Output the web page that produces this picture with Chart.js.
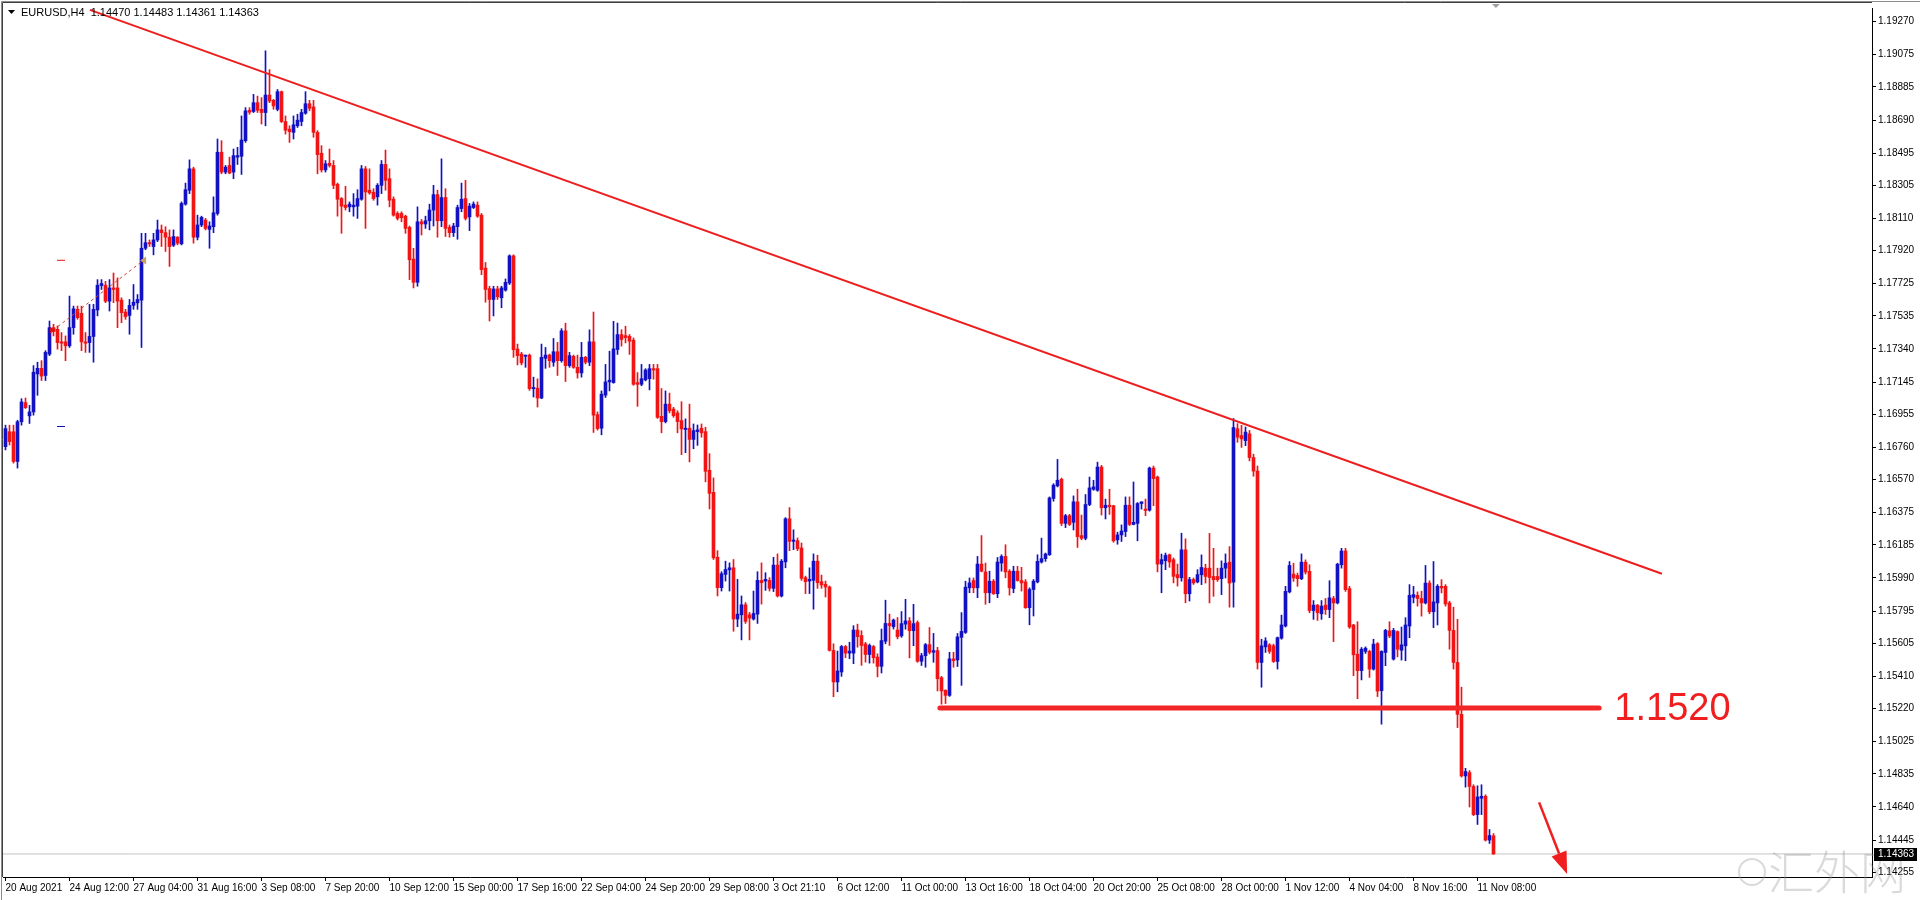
<!DOCTYPE html>
<html>
<head>
<meta charset="utf-8">
<script src="https://cdn.jsdelivr.net/npm/chart.js@4.4.1/dist/chart.umd.min.js"></script>
<style>
  html, body { margin: 0; padding: 0; background: #fff; }
  #wrap { width: 1920px; height: 900px; }
</style>
</head>
<body>
<div id="wrap"><canvas id="chart" width="1920" height="900"></canvas></div>
<script>
// EURUSD H4, one value per bar
const opens = [
  1.16764,1.16852,1.16852,1.16677,1.16911,1.17024,1.16946,1.16969,1.17193,1.17226,1.17184,1.17310,1.17466,1.17456,1.17382,1.17382,
  1.17359,1.17466,1.17574,1.17550,1.17382,1.17378,1.17414,1.17570,1.17714,1.17716,1.17622,1.17700,1.17700,1.17628,1.17558,1.17538,
  1.17597,1.17612,1.17628,1.17934,1.17967,1.17944,1.17983,1.18042,1.18026,1.17999,1.17952,1.17999,1.17960,1.18194,1.18276,1.18402,
  1.17999,1.18071,1.18100,1.18045,1.18061,1.18139,1.18500,1.18383,1.18422,1.18383,1.18471,1.18476,1.18568,1.18747,1.18740,1.18792,
  1.18753,1.18734,1.18837,1.18806,1.18753,1.18857,1.18681,1.18636,1.18617,1.18656,1.18681,1.18730,1.18786,1.18767,1.18617,1.18494,
  1.18396,1.18435,1.18422,1.18311,1.18227,1.18188,1.18178,1.18178,1.18182,1.18223,1.18402,1.18276,1.18264,1.18237,1.18305,1.18428,
  1.18344,1.18223,1.18139,1.18139,1.18123,1.18057,1.17870,1.17733,1.18090,1.18077,1.18096,1.18159,1.18250,1.18096,1.18233,1.18057,
  1.18026,1.18061,1.18168,1.18227,1.18119,1.18174,1.18188,1.18129,1.17817,1.17696,1.17632,1.17694,1.17642,1.17687,1.17729,1.17889,
  1.17340,1.17310,1.17297,1.17304,1.17106,1.17109,1.17051,1.17285,1.17304,1.17262,1.17324,1.17271,1.17447,1.17242,1.17297,1.17232,
  1.17199,1.17291,1.17262,1.17382,1.16953,1.16873,1.17068,1.17146,1.17142,1.17337,1.17425,1.17419,1.17415,1.17392,1.17142,1.17132,
  1.17158,1.17165,1.17224,1.17224,1.16943,1.16912,1.17015,1.16986,1.16963,1.16918,1.16865,1.16873,1.16807,1.16853,1.16873,1.16853,
  1.16625,1.16495,1.16112,1.15933,1.16011,1.16038,1.16050,1.15748,1.15773,1.15832,1.15773,1.15748,1.15777,1.15976,1.15972,1.15976,
  1.15929,1.16066,1.15884,1.16085,1.16339,1.16206,1.16210,1.16167,1.15992,1.15972,1.15976,1.16089,1.15968,1.15953,1.15937,1.15563,
  1.15377,1.15436,1.15586,1.15547,1.15547,1.15683,1.15650,1.15601,1.15539,1.15586,1.15524,1.15469,1.15617,1.15722,1.15703,1.15683,
  1.15649,1.15718,1.15737,1.15679,1.15727,1.15499,1.15532,1.15597,1.15552,1.15562,1.15402,1.15328,1.15298,1.15513,1.15507,1.15640,
  1.15669,1.15932,1.15975,1.15932,1.16072,1.16026,1.15903,1.15971,1.15897,1.16078,1.16117,1.16030,1.15928,1.16030,1.15975,1.15967,
  1.15815,1.15922,1.15967,1.16084,1.16104,1.16127,1.16459,1.16533,1.16572,1.16312,1.16357,1.16318,1.16439,1.16240,1.16224,1.16423,
  1.16513,1.16507,1.16644,1.16404,1.16419,1.16416,1.16215,1.16244,1.16264,1.16419,1.16306,1.16312,1.16429,1.16396,1.16390,1.16638,
  1.16585,1.16072,1.16092,1.16127,1.16098,1.16010,1.15991,1.16156,1.15897,1.15981,1.15967,1.16009,1.16048,1.16048,1.15999,1.15999,
  1.15986,1.16048,1.16083,1.15966,1.16870,1.16830,1.16800,1.16840,1.16700,1.16620,1.15492,1.15584,1.15596,1.15590,1.15498,1.15635,
  1.15707,1.15908,1.16013,1.16005,1.15986,1.16083,1.16029,1.15798,1.15830,1.15779,1.15830,1.15804,1.15869,1.15843,1.16068,1.16149,
  1.15927,1.15713,1.15541,1.15444,1.15557,1.15557,1.15453,1.15603,1.15326,1.15551,1.15678,1.15512,1.15674,1.15564,1.15590,1.15707,
  1.15876,1.15888,1.15869,1.15843,1.15960,1.15791,1.15843,1.15941,1.15941,1.15843,1.15681,1.15492,1.15186,1.14823,1.14843,1.14761,
  1.14595,1.14691,1.14703,1.14445,1.14470
];
const highs = [
  1.16891,1.16891,1.16891,1.16920,1.17047,1.17051,1.17008,1.17242,1.17262,1.17271,1.17330,1.17505,1.17486,1.17476,1.17437,1.17417,
  1.17652,1.17593,1.17593,1.17593,1.17437,1.17603,1.17603,1.17749,1.17749,1.17739,1.17749,1.17788,1.17759,1.17642,1.17574,1.17632,
  1.17720,1.17661,1.18022,1.18022,1.17983,1.18022,1.18100,1.18071,1.18061,1.18042,1.18042,1.18003,1.18207,1.18318,1.18455,1.18412,
  1.18129,1.18123,1.18110,1.18090,1.18237,1.18578,1.18568,1.18422,1.18471,1.18519,1.18529,1.18714,1.18763,1.18763,1.18841,1.18831,
  1.18822,1.19098,1.18987,1.18812,1.18870,1.18861,1.18714,1.18656,1.18714,1.18724,1.18753,1.18857,1.18806,1.18806,1.18627,1.18539,
  1.18451,1.18519,1.18451,1.18318,1.18233,1.18299,1.18207,1.18256,1.18279,1.18422,1.18416,1.18402,1.18285,1.18315,1.18451,1.18513,
  1.18402,1.18237,1.18149,1.18149,1.18129,1.18065,1.17934,1.18178,1.18104,1.18123,1.18194,1.18305,1.18276,1.18461,1.18285,1.18071,
  1.18081,1.18188,1.18318,1.18334,1.18198,1.18207,1.18207,1.18139,1.17850,1.17710,1.17710,1.17710,1.17710,1.17753,1.17895,1.17895,
  1.17369,1.17320,1.17304,1.17310,1.17174,1.17164,1.17369,1.17349,1.17310,1.17402,1.17379,1.17460,1.17492,1.17320,1.17304,1.17304,
  1.17379,1.17297,1.17453,1.17558,1.16969,1.17093,1.17249,1.17327,1.17503,1.17493,1.17454,1.17474,1.17425,1.17405,1.17201,1.17249,
  1.17224,1.17249,1.17249,1.17249,1.17107,1.17093,1.17080,1.16996,1.16976,1.17029,1.16928,1.17015,1.16898,1.16892,1.16898,1.16879,
  1.16723,1.16580,1.16151,1.16027,1.16089,1.16079,1.16099,1.15982,1.15884,1.15845,1.15787,1.15913,1.16027,1.16079,1.16021,1.15992,
  1.16112,1.16132,1.16099,1.16346,1.16405,1.16274,1.16226,1.16196,1.16001,1.16050,1.16132,1.16124,1.16007,1.15972,1.15943,1.15602,
  1.15559,1.15592,1.15592,1.15611,1.15709,1.15718,1.15679,1.15611,1.15601,1.15592,1.15543,1.15689,1.15859,1.15777,1.15748,1.15757,
  1.15792,1.15864,1.15757,1.15835,1.15737,1.15546,1.15604,1.15698,1.15663,1.15581,1.15410,1.15331,1.15552,1.15552,1.15663,1.15786,
  1.15971,1.15990,1.15990,1.16117,1.16240,1.16078,1.16030,1.15981,1.16111,1.16127,1.16186,1.16039,1.16059,1.16059,1.16053,1.15981,
  1.15932,1.15981,1.16127,1.16225,1.16137,1.16468,1.16546,1.16689,1.16579,1.16365,1.16365,1.16474,1.16513,1.16361,1.16482,1.16585,
  1.16566,1.16673,1.16654,1.16455,1.16513,1.16419,1.16260,1.16303,1.16468,1.16468,1.16556,1.16435,1.16439,1.16455,1.16644,1.16650,
  1.16591,1.16131,1.16137,1.16131,1.16108,1.16072,1.16254,1.16221,1.15994,1.15990,1.16039,1.16126,1.16071,1.16253,1.16165,1.16048,
  1.16091,1.16132,1.16175,1.16930,1.16900,1.16890,1.16880,1.16860,1.16720,1.16650,1.15629,1.15638,1.15603,1.15600,1.15642,1.15771,
  1.15941,1.16087,1.16077,1.16019,1.16132,1.16097,1.16068,1.15857,1.15834,1.15857,1.15869,1.15974,1.15882,1.16077,1.16165,1.16165,
  1.15941,1.15717,1.15732,1.15580,1.15584,1.15564,1.15629,1.15609,1.15561,1.15687,1.15732,1.15693,1.15678,1.15701,1.15756,1.15951,
  1.15941,1.15908,1.15912,1.16064,1.15974,1.16087,1.15951,1.15980,1.15951,1.15853,1.15818,1.15746,1.15346,1.14868,1.14855,1.14771,
  1.14765,1.14771,1.14712,1.14507,1.14483
];
const lows = [
  1.16745,1.16774,1.16667,1.16638,1.16891,1.16989,1.16901,1.16950,1.17067,1.17154,1.17154,1.17301,1.17417,1.17339,1.17330,1.17271,
  1.17349,1.17427,1.17515,1.17330,1.17320,1.17320,1.17262,1.17535,1.17691,1.17613,1.17564,1.17613,1.17466,1.17495,1.17515,1.17427,
  1.17574,1.17574,1.17349,1.17925,1.17944,1.17895,1.17973,1.17944,1.17915,1.17827,1.17944,1.17954,1.17954,1.18188,1.18256,1.17964,
  1.17983,1.18061,1.18042,1.17934,1.18026,1.18129,1.18373,1.18373,1.18373,1.18344,1.18428,1.18369,1.18558,1.18724,1.18734,1.18734,
  1.18666,1.18656,1.18792,1.18753,1.18744,1.18675,1.18607,1.18558,1.18578,1.18646,1.18656,1.18724,1.18744,1.18588,1.18373,1.18383,
  1.18383,1.18412,1.18285,1.18123,1.18022,1.18159,1.18149,1.18123,1.18110,1.18217,1.18051,1.18252,1.18217,1.18188,1.18256,1.18276,
  1.18178,1.18123,1.18100,1.18090,1.18022,1.17749,1.17700,1.17710,1.18012,1.18051,1.18042,1.18065,1.17999,1.18061,1.18003,1.17999,
  1.18003,1.17987,1.18149,1.18100,1.18038,1.18168,1.18116,1.17778,1.17616,1.17505,1.17535,1.17632,1.17583,1.17681,1.17720,1.17291,
  1.17246,1.17246,1.17232,1.17096,1.17057,1.16998,1.17047,1.17226,1.17232,1.17238,1.17184,1.17262,1.17148,1.17232,1.17226,1.17168,
  1.17174,1.17252,1.17242,1.16848,1.16862,1.16834,1.17054,1.17093,1.17138,1.17308,1.17357,1.17376,1.17308,1.17126,1.17002,1.17123,
  1.17152,1.17099,1.17162,1.16931,1.16846,1.16904,1.16963,1.16937,1.16846,1.16717,1.16729,1.16674,1.16752,1.16772,1.16820,1.16557,
  1.16397,1.16099,1.15884,1.15913,1.15972,1.15913,1.15676,1.15703,1.15625,1.15722,1.15625,1.15742,1.15722,1.15836,1.15917,1.15913,
  1.15910,1.15878,1.15878,1.16050,1.16151,1.16157,1.16151,1.15976,1.15898,1.15898,1.15806,1.15929,1.15929,1.15878,1.15559,1.15290,
  1.15319,1.15410,1.15520,1.15514,1.15485,1.15582,1.15475,1.15494,1.15488,1.15488,1.15407,1.15430,1.15602,1.15592,1.15689,1.15631,
  1.15640,1.15688,1.15519,1.15591,1.15493,1.15474,1.15464,1.15542,1.15493,1.15324,1.15246,1.15250,1.15292,1.15464,1.15468,1.15357,
  1.15663,1.15903,1.15903,1.15874,1.16026,1.15835,1.15844,1.15893,1.15874,1.16030,1.15991,1.15889,1.15903,1.15971,1.15913,1.15811,
  1.15714,1.15766,1.15961,1.16078,1.16088,1.16123,1.16443,1.16527,1.16299,1.16287,1.16299,1.16273,1.16170,1.16215,1.16215,1.16416,
  1.16507,1.16501,1.16361,1.16338,1.16365,1.16201,1.16189,1.16205,1.16234,1.16299,1.16303,1.16209,1.16396,1.16357,1.16384,1.16416,
  1.16026,1.15903,1.16039,1.16053,1.15961,1.15942,1.15971,1.15844,1.15854,1.15952,1.15961,1.15951,1.15960,1.15843,1.15882,1.15970,
  1.15892,1.15990,1.15818,1.15818,1.16790,1.16760,1.16770,1.16680,1.16590,1.15453,1.15346,1.15551,1.15545,1.15492,1.15453,1.15629,
  1.15701,1.15902,1.15970,1.15941,1.15980,1.16013,1.15785,1.15746,1.15740,1.15746,1.15775,1.15756,1.15615,1.15837,1.16048,1.15911,
  1.15693,1.15414,1.15278,1.15389,1.15545,1.15404,1.15447,1.15291,1.15128,1.15473,1.15638,1.15506,1.15525,1.15506,1.15502,1.15638,
  1.15843,1.15824,1.15765,1.15837,1.15779,1.15697,1.15713,1.15902,1.15824,1.15570,1.15453,1.15108,1.14816,1.14757,1.14640,1.14589,
  1.14537,1.14595,1.14439,1.14425,1.14361
];
const closes = [
  1.16871,1.16794,1.16677,1.16911,1.17028,1.16994,1.16969,1.17203,1.17226,1.17180,1.17320,1.17466,1.17443,1.17378,1.17374,1.17359,
  1.17466,1.17577,1.17525,1.17382,1.17374,1.17414,1.17574,1.17716,1.17726,1.17622,1.17700,1.17691,1.17622,1.17554,1.17531,1.17597,
  1.17616,1.17632,1.17934,1.17967,1.17960,1.17983,1.18042,1.18026,1.17999,1.17944,1.18003,1.17964,1.18198,1.18279,1.18402,1.17999,
  1.18071,1.18116,1.18051,1.18065,1.18143,1.18500,1.18383,1.18412,1.18377,1.18480,1.18480,1.18572,1.18744,1.18736,1.18792,1.18747,
  1.18734,1.18837,1.18802,1.18773,1.18857,1.18681,1.18630,1.18621,1.18662,1.18689,1.18734,1.18786,1.18759,1.18617,1.18486,1.18396,
  1.18432,1.18422,1.18305,1.18223,1.18182,1.18174,1.18194,1.18188,1.18227,1.18402,1.18266,1.18260,1.18227,1.18305,1.18428,1.18334,
  1.18217,1.18129,1.18110,1.18114,1.18051,1.17866,1.17733,1.18090,1.18077,1.18096,1.18159,1.18250,1.18096,1.18233,1.18051,1.18026,
  1.18065,1.18174,1.18223,1.18110,1.18182,1.18194,1.18123,1.17808,1.17691,1.17632,1.17694,1.17648,1.17700,1.17733,1.17889,1.17336,
  1.17301,1.17258,1.17304,1.17106,1.17113,1.17051,1.17291,1.17304,1.17271,1.17324,1.17271,1.17447,1.17242,1.17301,1.17232,1.17199,
  1.17291,1.17262,1.17382,1.16950,1.16871,1.17074,1.17146,1.17156,1.17341,1.17425,1.17396,1.17407,1.17386,1.17132,1.17132,1.17165,
  1.17216,1.17224,1.17216,1.16937,1.16912,1.17015,1.16976,1.16947,1.16912,1.16869,1.16873,1.16807,1.16859,1.16863,1.16846,1.16619,
  1.16489,1.16109,1.15933,1.16015,1.16040,1.16050,1.15748,1.15777,1.15832,1.15734,1.15754,1.15781,1.15976,1.15962,1.15982,1.15929,
  1.16066,1.15884,1.16089,1.16339,1.16206,1.16214,1.16163,1.15988,1.15968,1.15982,1.16089,1.15962,1.15949,1.15937,1.15563,1.15377,
  1.15442,1.15586,1.15547,1.15559,1.15683,1.15644,1.15592,1.15539,1.15592,1.15520,1.15469,1.15621,1.15722,1.15709,1.15742,1.15644,
  1.15721,1.15737,1.15679,1.15721,1.15499,1.15532,1.15597,1.15552,1.15562,1.15396,1.15324,1.15298,1.15513,1.15503,1.15643,1.15675,
  1.15936,1.15961,1.15932,1.16072,1.16030,1.15903,1.15971,1.15897,1.16084,1.16117,1.16026,1.15932,1.16030,1.15975,1.15961,1.15815,
  1.15922,1.15971,1.16088,1.16104,1.16131,1.16462,1.16537,1.16566,1.16312,1.16357,1.16306,1.16439,1.16234,1.16224,1.16423,1.16521,
  1.16527,1.16644,1.16404,1.16419,1.16410,1.16209,1.16244,1.16267,1.16419,1.16306,1.16318,1.16429,1.16439,1.16388,1.16638,1.16576,
  1.16072,1.16098,1.16123,1.16084,1.16000,1.15991,1.16156,1.15897,1.15981,1.15961,1.16010,1.16052,1.15999,1.15993,1.15980,1.15980,
  1.16048,1.16077,1.15960,1.16877,1.16820,1.16810,1.16850,1.16700,1.16620,1.15492,1.15590,1.15619,1.15557,1.15498,1.15638,1.15713,
  1.15911,1.16064,1.15990,1.15986,1.16083,1.16025,1.15798,1.15830,1.15785,1.15824,1.15804,1.15873,1.15843,1.16071,1.16149,1.15921,
  1.15701,1.15537,1.15444,1.15570,1.15576,1.15453,1.15600,1.15323,1.15557,1.15681,1.15648,1.15681,1.15570,1.15596,1.15713,1.15888,
  1.15892,1.15869,1.15843,1.15960,1.15791,1.15849,1.15941,1.15931,1.15837,1.15681,1.15492,1.15186,1.14823,1.14849,1.14761,1.14595,
  1.14699,1.14703,1.14445,1.14472,1.14363
];

// time axis labels, one every 16 bars
const timeLabels = ['20 Aug 2021','24 Aug 12:00','27 Aug 04:00','31 Aug 16:00','3 Sep 08:00','7 Sep 20:00','10 Sep 12:00',
  '15 Sep 00:00','17 Sep 16:00','22 Sep 04:00','24 Sep 20:00','29 Sep 08:00','3 Oct 21:10','6 Oct 12:00','11 Oct 00:00',
  '13 Oct 16:00','18 Oct 04:00','20 Oct 20:00','25 Oct 08:00','28 Oct 00:00','1 Nov 12:00','4 Nov 04:00','8 Nov 16:00','11 Nov 08:00'];
const labelStep = 16;

// price scale labels
const priceTicks = [1.19270,1.19075,1.18885,1.18690,1.18495,1.18305,1.18110,1.17920,1.17725,1.17535,1.17340,1.17145,1.16955,
  1.16760,1.16570,1.16375,1.16185,1.15990,1.15795,1.15605,1.15410,1.15220,1.15025,1.14835,1.14640,1.14445,1.14255];

// drawn objects: [bar index, price]
const trendLine = [[21.1, 1.19339], [414.1, 1.16015]];
const levelLine = [[233.6, 1.15224], [398.4, 1.15224]];
const levelText = '1.1520';
const arrowLine = [[383.4, 1.14667], [390.4, 1.14245]];
const tradeLine = [[11.9, 1.17451], [34.4, 1.17861]];

const header = 'EURUSD,H4  1.14470 1.14483 1.14361 1.14363';
const lastPrice = closes[closes.length - 1];

const BLUE = '#1212c4';
const RED = '#f01414';
const LINE_RED = '#ee1e1e';
const FONT = { family: 'Liberation Sans', size: 10 };

const X_MIN = -0.625, X_MAX = 466.625;
const Y_MIN = 1.142272, Y_MAX = 1.193503;

const colors = opens.map((o, i) => closes[i] >= o ? BLUE : RED);
const bodies = opens.map((o, i) => ({ x: i, y: [o, closes[i]] }));
const wicks = lows.map((l, i) => ({ x: i, y: [l, highs[i]] }));
const pts = arr => arr.map(p => ({ x: p[0], y: p[1] }));

const decor = {
  id: 'decor',
  beforeDraw(chart) {
    const c = chart.ctx;
    c.save();
    c.fillStyle = '#fff';
    c.fillRect(0, 0, chart.width, chart.height);
    c.restore();
  },
  afterDraw(chart) {
    const c = chart.ctx, a = chart.chartArea;
    const xs = chart.scales.x, ys = chart.scales.y;
    c.save();

    // window frame
    c.strokeStyle = '#8c8c8c';
    c.lineWidth = 1;
    c.beginPath();
    c.moveTo(1.5, 900); c.lineTo(1.5, 1.5); c.lineTo(1920, 1.5);
    c.stroke();
    c.strokeStyle = '#404040';
    c.beginPath();
    c.moveTo(2.5, a.bottom); c.lineTo(2.5, 2.5); c.lineTo(a.right, 2.5);
    c.stroke();

    // header
    c.fillStyle = '#000';
    c.beginPath();
    c.moveTo(8, 10); c.lineTo(15, 10); c.lineTo(11.5, 14);
    c.closePath(); c.fill();
    c.font = '11px "Liberation Sans"';
    c.textBaseline = 'middle';
    c.fillText(header, 21, 12.5);

    // chart shift marker
    const sx = xs.getPixelForValue(372.6);
    c.fillStyle = '#a0a0a0';
    c.beginPath();
    c.moveTo(sx - 4, 4); c.lineTo(sx + 4, 4); c.lineTo(sx, 8);
    c.closePath(); c.fill();

    // trade history marks
    const t0x = xs.getPixelForValue(tradeLine[0][0]), t0y = ys.getPixelForValue(tradeLine[0][1]);
    const t1x = xs.getPixelForValue(tradeLine[1][0]), t1y = ys.getPixelForValue(tradeLine[1][1]);
    c.strokeStyle = '#d04030';
    c.setLineDash([3, 3]);
    c.beginPath(); c.moveTo(t0x, t0y); c.lineTo(t1x, t1y); c.stroke();
    c.setLineDash([]);
    c.fillStyle = '#e01010';
    c.beginPath(); c.moveTo(t0x - 3, t0y - 3); c.lineTo(t0x + 3, t0y); c.lineTo(t0x - 3, t0y + 3); c.closePath(); c.fill();
    c.fillStyle = '#c8a060';
    c.beginPath(); c.moveTo(t1x + 3, t1y - 4); c.lineTo(t1x + 3, t1y + 4); c.lineTo(t1x - 3, t1y); c.closePath(); c.fill();
    c.lineWidth = 1;
    c.strokeStyle = '#e01010';
    c.beginPath(); c.moveTo(57, ys.getPixelForValue(1.17863)); c.lineTo(65, ys.getPixelForValue(1.17863)); c.stroke();
    c.strokeStyle = '#1010c0';
    c.beginPath(); c.moveTo(57, ys.getPixelForValue(1.16883)); c.lineTo(65, ys.getPixelForValue(1.16883)); c.stroke();

    // level label
    c.fillStyle = '#f01e1e';
    c.font = '38px "Liberation Sans"';
    c.textBaseline = 'middle';
    c.fillText(levelText, xs.getPixelForValue(402.2), ys.getPixelForValue(levelLine[0][1]) + 2);

    // arrow
    const ax0 = xs.getPixelForValue(arrowLine[0][0]), ay0 = ys.getPixelForValue(arrowLine[0][1]);
    const ax1 = xs.getPixelForValue(arrowLine[1][0]), ay1 = ys.getPixelForValue(arrowLine[1][1]);
    const ang = Math.atan2(ay1 - ay0, ax1 - ax0);
    const hl = 22, hw = 8;
    const bx = ax1 - hl * Math.cos(ang), by = ay1 - hl * Math.sin(ang);
    c.strokeStyle = '#f01e1e';
    c.lineWidth = 2.5;
    c.beginPath(); c.moveTo(ax0, ay0); c.lineTo(bx, by); c.stroke();
    c.fillStyle = '#f01e1e';
    c.beginPath();
    c.moveTo(ax1, ay1);
    c.lineTo(bx + hw * Math.sin(ang), by - hw * Math.cos(ang));
    c.lineTo(bx - hw * Math.sin(ang), by + hw * Math.cos(ang));
    c.closePath(); c.fill();

    // watermark
    c.fillStyle = 'rgba(150,150,150,0.35)';
    c.strokeStyle = 'rgba(150,150,150,0.35)';
    c.lineWidth = 2;
    c.beginPath(); c.arc(1752, 872, 13, 0, Math.PI * 2); c.stroke();
    c.font = '300 46px "Noto Sans CJK SC"';
    c.fillText('汇外网', 1768, 872);

    // current price box on the axis
    const py = Math.round(ys.getPixelForValue(lastPrice));
    c.fillStyle = '#000';
    c.fillRect(a.right + 2, py - 6, 43, 13);
    c.fillStyle = '#fff';
    c.font = '10px "Liberation Sans"';
    c.textBaseline = 'middle';
    c.fillText(lastPrice.toFixed(5), a.right + 6, py + 0.5);

    c.restore();
  }
};

new Chart(document.getElementById('chart'), {
  type: 'bar',
  data: {
    datasets: [
      { type: 'line', label: 'trend', data: pts(trendLine), borderColor: LINE_RED, borderWidth: 2,
        pointRadius: 0, order: 1 },
      { type: 'line', label: 'level', data: pts(levelLine), borderColor: '#f22626', borderWidth: 5,
        borderCapStyle: 'round', pointRadius: 0, order: 1 },
      { label: 'bodies', data: bodies, backgroundColor: colors, barThickness: 3, minBarLength: 1,
        grouped: false, borderWidth: 0, order: 3 },
      { label: 'wicks', data: wicks, backgroundColor: colors, barThickness: 1, minBarLength: 1,
        grouped: false, borderWidth: 0, order: 4 },
      { type: 'line', label: 'bid', data: [{ x: X_MIN, y: lastPrice }, { x: X_MAX, y: lastPrice }],
        borderColor: '#c4c4c4', borderWidth: 1, pointRadius: 0, order: 6 }
    ]
  },
  options: {
    responsive: false,
    devicePixelRatio: 1,
    animation: false,
    layout: { padding: { left: 3, top: 3, right: 0, bottom: 0 } },
    plugins: { legend: { display: false }, tooltip: { enabled: false } },
    scales: {
      x: {
        type: 'linear', min: X_MIN, max: X_MAX, offset: false,
        afterBuildTicks: s => { s.ticks = timeLabels.map((_, k) => ({ value: k * labelStep })); },
        afterFit: s => { s.height = 23; },
        ticks: { autoSkip: false, maxRotation: 0, align: 'start', padding: 1, color: '#000', font: FONT,
          callback: v => timeLabels[Math.round(v / labelStep)] },
        grid: { drawOnChartArea: false, drawTicks: true, tickLength: 4, color: '#000', offset: false },
        border: { display: true, color: '#000', width: 1 }
      },
      y: {
        position: 'right', min: Y_MIN, max: Y_MAX,
        afterBuildTicks: s => { s.ticks = priceTicks.map(v => ({ value: v })); },
        afterFit: s => { s.width = 48; },
        ticks: { autoSkip: false, padding: 2, color: '#000', font: FONT, callback: v => v.toFixed(5) },
        grid: { drawOnChartArea: false, drawTicks: true, tickLength: 4, color: '#000' },
        border: { display: true, color: '#000', width: 1 }
      }
    }
  },
  plugins: [decor]
});
</script>
</body>
</html>
